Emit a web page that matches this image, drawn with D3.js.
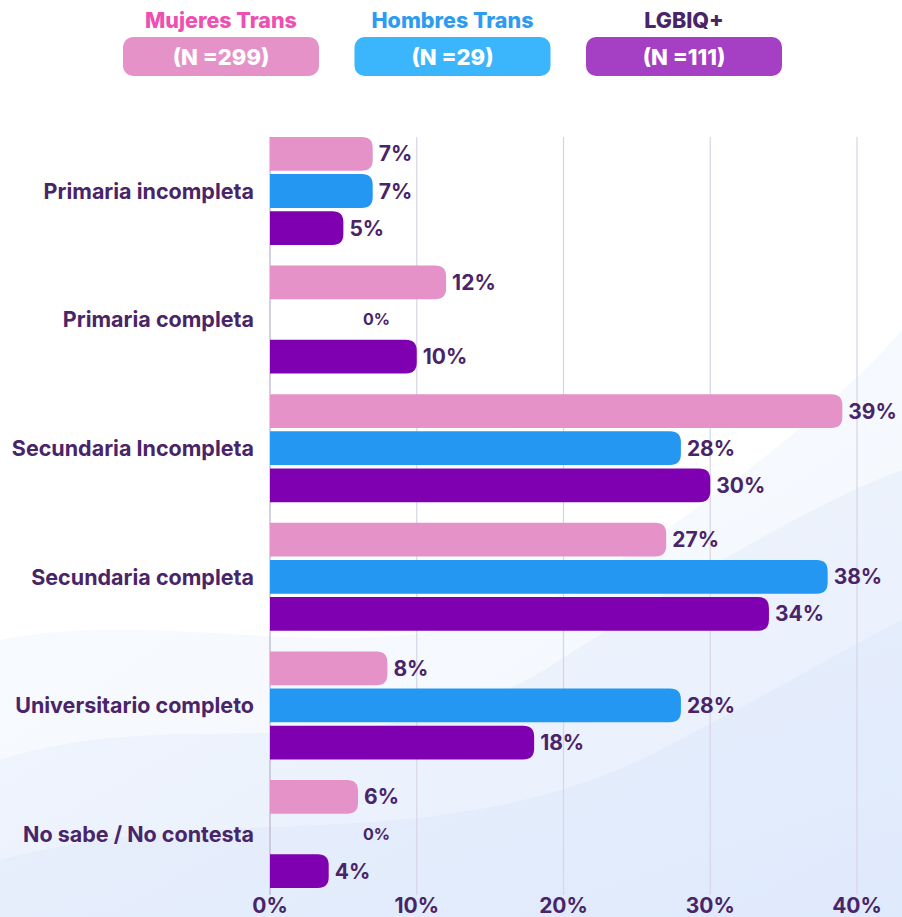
<!DOCTYPE html>
<html lang="es">
<head>
<meta charset="UTF-8">
<title>Nivel educativo</title>
<script src="https://d3js.org/d3.v7.min.js"></script>
<style>
  body { margin: 0; padding: 0; background: #fff; }
  svg { display: block; font-family: Inter, "Noto Sans", sans-serif; }
  .cat { font-size: 21.5px; font-weight: 700; fill: #4a2468; text-anchor: end; }
  .val { font-size: 21px; font-weight: 700; fill: #4a2468; }
  .zero { font-size: 16px; font-weight: 700; fill: #4a2468; }
  .tick-lbl { font-size: 21px; font-weight: 700; fill: #4a2468; text-anchor: middle; }
</style>
</head>
<body>
<svg id="chart" width="902" height="917"></svg>
<script>
// datos
const categories = ["Primaria incompleta", "Primaria completa", "Secundaria Incompleta",
                    "Secundaria completa", "Universitario completo", "No sabe / No contesta"];
const seriesNames = ["Mujeres Trans", "Hombres Trans", "LGBIQ+"];
const seriesN = ["(N =299)", "(N =29)", "(N =111)"];
const mujeresTrans = [7, 12, 39, 27, 8, 6];
const hombresTrans = [7, 0, 28, 38, 28, 0];
const lgbiq = [5, 10, 30, 34, 18, 4];
const ticks = [0, 10, 20, 30, 40];

const barColors = ["#e592c8", "#2397f2", "#7e00b1"];
const legendText = ["#ee4fb0", "#2d9cf0", "#4a2468"];
const legendBox = ["#e592c8", "#3bb5fc", "#a53fc4"];

const values = [mujeresTrans, hombresTrans, lgbiq];
const rows = categories.map((c, i) => ({ cat: c, vals: seriesNames.map((s, j) => ({ s, v: values[j][i] })) }));

const svg = d3.select("#chart");

// fondo ondulado suave
const defs = svg.append("defs");
const grad = defs.append("linearGradient").attr("id", "wave").attr("x1", 0).attr("y1", 0).attr("x2", 1).attr("y2", 1);
grad.append("stop").attr("offset", "0%").attr("stop-color", "#e6edfb").attr("stop-opacity", 0.9);
grad.append("stop").attr("offset", "100%").attr("stop-color", "#d3e2fa").attr("stop-opacity", 0.9);
const waves = [
  "M0,640 C200,600 420,700 620,560 C760,470 860,380 902,330 L902,917 L0,917 Z",
  "M0,760 C180,700 380,780 560,660 C700,570 820,500 902,470 L902,917 L0,917 Z",
  "M0,860 C220,800 420,860 640,760 C760,700 860,640 902,620 L902,917 L0,917 Z"
];
svg.selectAll(".wave").data(waves).enter().append("path")
  .attr("d", d => d).attr("fill", "url(#wave)").attr("opacity", (d, i) => 0.3 + i * 0.1);

// escalas
const x = d3.scaleLinear().domain([0, 40]).range([270, 857]);
const y0 = d3.scaleBand().domain(categories).range([126.7, 898.3]).paddingInner(0.16).paddingOuter(0.08);
const y1 = d3.scaleBand().domain(seriesNames).range([0, y0.bandwidth()]).paddingInner(0.09);

// rejilla
svg.append("g").selectAll("line").data(ticks).enter().append("line")
  .attr("x1", d => x(d)).attr("x2", d => x(d))
  .attr("y1", 137).attr("y2", 895)
  .attr("stroke", d => d === 0 ? "#b9b3cc" : "#d8d4e6").attr("stroke-width", 1.2);

svg.append("g").selectAll("text").data(ticks).enter().append("text")
  .attr("class", "tick-lbl").attr("x", d => x(d)).attr("y", 913)
  .text(d => d + "%");

// barras con extremo redondeado
function barPath(x0, x1, yTop, h, r) {
  const w = x1 - x0;
  if (w <= 0) return "";
  r = Math.min(r, w, h / 2);
  return `M${x0},${yTop} H${x1 - r} Q${x1},${yTop} ${x1},${yTop + r} V${yTop + h - r} Q${x1},${yTop + h} ${x1 - r},${yTop + h} H${x0} Z`;
}

const groups = svg.append("g").selectAll("g").data(rows).enter().append("g")
  .attr("transform", d => `translate(0,${y0(d.cat)})`);

groups.selectAll("path").data(d => d.vals).enter().append("path")
  .attr("d", d => barPath(x(0), x(d.v), y1(d.s), y1.bandwidth(), 11))
  .attr("fill", (d, i) => barColors[i]);

groups.selectAll("text.v").data(d => d.vals).enter().append("text")
  .attr("class", d => d.v === 0 ? "v zero" : "v val")
  .attr("x", d => d.v === 0 ? x(0) + 93 : x(d.v) + 6)
  .attr("y", d => y1(d.s) + y1.bandwidth() / 2)
  .attr("dy", "0.36em")
  .text(d => d.v + "%");

groups.append("text").attr("class", "cat")
  .attr("x", 254).attr("y", y0.bandwidth() / 2).attr("dy", "0.36em")
  .text(d => d.cat);

// leyenda
const lx = d3.scalePoint().domain(seriesNames).range([221, 684]);
const leg = svg.append("g").selectAll("g").data(seriesNames).enter().append("g")
  .attr("transform", d => `translate(${lx(d)},0)`);
leg.append("text").attr("x", 0).attr("y", 28).attr("text-anchor", "middle")
  .attr("font-size", 21.5).attr("font-weight", 800)
  .attr("fill", (d, i) => legendText[i]).text(d => d);
leg.append("rect").attr("x", -98).attr("y", 37).attr("width", 196).attr("height", 39).attr("rx", 10)
  .attr("fill", (d, i) => legendBox[i]);
leg.append("text").attr("x", 0).attr("y", 65).attr("text-anchor", "middle")
  .attr("font-size", 22).attr("font-weight", 800).attr("fill", "#fff")
  .text((d, i) => seriesN[i]);
</script>
</body>
</html>
